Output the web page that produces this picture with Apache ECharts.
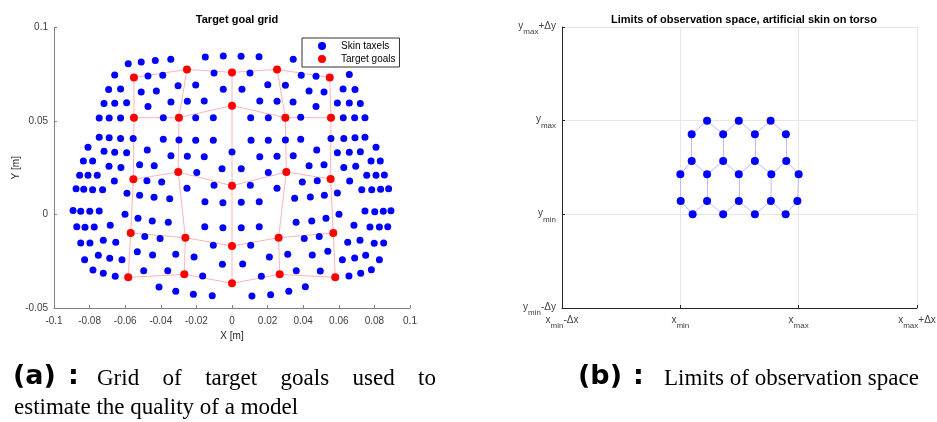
<!DOCTYPE html>
<html>
<head>
<meta charset="utf-8">
<script src="https://cdn.jsdelivr.net/npm/echarts@6/dist/echarts.min.js"></script>
<style>html,body{margin:0;padding:0;background:#fff}#c{width:937px;height:422px}</style>
</head>
<body>
<div id="c"></div>
<script>
// ---- (a) Skin taxels [m]
const taxelX = [
-0.0583,-0.0510,-0.0431,-0.0344,-0.0150,-0.0049,-0.0659,-0.0472,-0.0389,-0.0101,
-0.0693,-0.0626,-0.0510,-0.0425,-0.0303,-0.0204,-0.0049,-0.0719,-0.0659,-0.0592,
-0.0472,-0.0343,-0.0251,-0.0156,-0.0746,-0.0690,-0.0626,-0.0386,-0.0204,-0.0105,
0.0051,0.0152,0.0344,0.0431,0.0510,0.0583,0.0101,0.0389,0.0472,0.0659,
0.0056,0.0201,0.0300,0.0433,0.0517,0.0624,0.0691,0.0156,0.0253,0.0343,
0.0472,0.0592,0.0659,0.0721,0.0105,0.0204,0.0386,0.0625,0.0689,0.0747,
-0.0746,-0.0690,-0.0626,-0.0555,-0.0386,-0.0298,-0.0204,-0.0105,-0.0809,-0.0719,
-0.0659,-0.0592,-0.0476,-0.0343,-0.0251,-0.0156,0,-0.0835,-0.0783,-0.0691,
-0.0624,-0.0519,-0.0437,-0.0198,-0.0056,-0.0856,-0.0809,-0.0757,-0.0661,-0.0478,
-0.0395,-0.0876,-0.0833,-0.0783,-0.0727,-0.0590,-0.0519,-0.0438,-0.0350,-0.0253,
-0.0101,-0.0152,-0.0051,-0.0893,-0.0850,-0.0799,-0.0746,-0.0601,
0.0107,0.0204,0.0300,0.0386,0.0556,0.0628,0.0691,0.0747,0.0156,0.0253,
0.0344,0.0476,0.0592,0.0659,0.0721,0.0809,0.0052,0.0204,0.0433,0.0517,
0.0628,0.0695,0.0781,0.0833,0.0103,0.0253,0.0395,0.0479,0.0661,0.0757,
0.0809,0.0856,0.0052,0.0153,0.0352,0.0440,0.0519,0.0592,0.0729,0.0785,
0.0835,0.0880,0.0601,0.0747,0.0802,0.0850,0.0893,
-0.0528,-0.0448,-0.0358,-0.0872,-0.0826,-0.0774,-0.0684,-0.0153,-0.0051,-0.0490,
-0.0404,-0.0105,-0.0850,-0.0798,-0.0723,-0.0653,-0.0532,-0.0446,-0.0316,-0.0213,
-0.0054,-0.0828,-0.0751,-0.0687,-0.0618,-0.0781,-0.0723,-0.0656,-0.0496,-0.0361,
-0.0165,-0.0410,-0.0316,-0.0217,-0.0111,
0.0052,0.0153,0.0360,0.0448,0.0528,0.0685,0.0775,0.0828,0.0875,0.0105,
0.0406,0.0490,0.0650,0.0719,0.0799,0.0852,0.0060,0.0210,0.0313,0.0451,
0.0538,0.0620,0.0689,0.0751,0.0828,0.0165,0.0361,0.0496,0.0657,0.0723,
0.0783,0.0112,0.0217,0.0319,0.0412
];
const taxelY = [
0.0806,0.0816,0.0823,0.0830,0.0842,0.0848,0.0746,0.0741,0.0745,0.0757,
0.0668,0.0671,0.0655,0.0661,0.0689,0.0693,0.0670,0.0593,0.0595,0.0597,
0.0577,0.0602,0.0606,0.0607,0.0516,0.0516,0.0516,0.0518,0.0518,0.0518,
0.0846,0.0844,0.0830,0.0823,0.0816,0.0806,0.0757,0.0745,0.0739,0.0748,
0.0670,0.0694,0.0691,0.0661,0.0655,0.0671,0.0668,0.0607,0.0605,0.0602,
0.0577,0.0596,0.0596,0.0593,0.0518,0.0518,0.0520,0.0518,0.0518,0.0518,
0.0413,0.0411,0.0407,0.0407,0.0402,0.0398,0.0397,0.0397,0.0359,0.0338,
0.0333,0.0330,0.0345,0.0314,0.0311,0.0309,0.0334,0.0286,0.0286,0.0258,
0.0252,0.0266,0.0261,0.0224,0.0245,0.0210,0.0210,0.0210,0.0179,0.0181,
0.0174,0.0138,0.0135,0.0133,0.0133,0.0113,0.0103,0.0092,0.0084,0.0140,
0.0156,0.0068,0.0063,0.0022,0.0017,0.0017,0.0019,0.0001,
0.0397,0.0397,0.0398,0.0402,0.0407,0.0407,0.0411,0.0413,0.0309,0.0311,
0.0314,0.0345,0.0330,0.0333,0.0336,0.0359,0.0245,0.0224,0.0261,0.0266,
0.0252,0.0258,0.0286,0.0286,0.0156,0.0140,0.0174,0.0181,0.0179,0.0210,
0.0210,0.0211,0.0065,0.0068,0.0087,0.0094,0.0103,0.0115,0.0133,0.0133,
0.0135,0.0138,0.0001,0.0019,0.0015,0.0017,0.0020,
-0.0020,-0.0035,-0.0042,-0.0065,-0.0068,-0.0067,-0.0058,-0.0065,-0.0071,-0.0117,
-0.0129,-0.0165,-0.0152,-0.0152,-0.0138,-0.0149,-0.0199,-0.0217,-0.0213,-0.0227,
-0.0266,-0.0242,-0.0218,-0.0234,-0.0242,-0.0297,-0.0314,-0.0330,-0.0301,-0.0301,
-0.0329,-0.0388,-0.0411,-0.0427,-0.0434,
-0.0071,-0.0065,-0.0042,-0.0035,-0.0020,-0.0058,-0.0067,-0.0067,-0.0065,-0.0165,
-0.0129,-0.0117,-0.0149,-0.0138,-0.0154,-0.0152,-0.0265,-0.0227,-0.0213,-0.0217,
-0.0197,-0.0242,-0.0233,-0.0218,-0.0242,-0.0330,-0.0301,-0.0302,-0.0329,-0.0314,
-0.0295,-0.0436,-0.0429,-0.0411,-0.0386
];
// ---- (a) Target goals, 5 rows x 5 columns [m]
const goalX = [
[-0.0551,-0.0253,0,0.0253,0.0549],
[-0.0551,-0.0298,0,0.0300,0.0556],
[-0.0554,-0.0302,0,0.0305,0.0554],
[-0.0569,-0.0262,0,0.0262,0.0569],
[-0.0583,-0.0268,0,0.0268,0.0580]
];
const goalY = [
[0.0732,0.0776,0.0760,0.0776,0.0732],
[0.0518,0.0518,0.0582,0.0518,0.0518],
[0.0188,0.0227,0.0154,0.0227,0.0190],
[-0.0099,-0.0124,-0.0168,-0.0124,-0.0099],
[-0.0336,-0.0320,-0.0368,-0.0320,-0.0336]
];
// ---- (b) Hexagonal skin patch in normalised limit units
const hexX = [1.226,1.494,1.763, 1.096,1.362,1.630,1.892, 1.096,1.362,1.630,1.895,
              1.0,1.226,1.494,1.769,2.0, 1.003,1.226,1.494,1.765,1.989, 1.104,1.362,1.630,1.890];
const hexY = [2.0,2.0,2.0, 1.854,1.854,1.854,1.854, 1.569,1.569,1.569,1.569,
              1.427,1.427,1.427,1.427,1.427, 1.142,1.142,1.142,1.142,1.142, 1.0,1.0,1.0,1.0];
const hexEdges = [[0,3],[0,4],[1,4],[1,5],[2,5],[2,6],[3,7],[4,8],[5,9],[6,10],
  [7,11],[7,12],[8,12],[8,13],[9,13],[9,14],[10,14],[10,15],
  [11,16],[12,17],[13,18],[14,19],[15,20],
  [16,21],[17,21],[17,22],[18,22],[18,23],[19,23],[19,24],[20,24]];
const xTickBase = ['x','x','x','x'], xTickSub = ['min','min','max','max'], xTickSuffix = ['-Δx','','','+Δx'];
const yTickBase = ['y','y','y','y'], yTickSub = ['min','min','max','max'], yTickSuffix = ['-Δy','','','+Δy'];
const captionA1 = 'Grid of target goals used to';
const captionA2 = 'estimate the quality of a model';
const captionB = 'Limits of observation space';

const FONT = "'Liberation Sans', Arial, sans-serif";
const LBL = '#404040';
const SERIF = "23px 'Liberation Serif', serif";
const BOLD = "bold 27px 'DejaVu Sans', sans-serif";
const taxels = taxelX.map((x,i)=>[x, taxelY[i]]);
const goals = [];
goalX.forEach((row,r)=>row.forEach((x,c)=>goals.push([x, goalY[r][c]])));
const goalLines = [];
for (let r=0;r<5;r++) goalLines.push({coords: goalX[r].map((x,c)=>[x, goalY[r][c]])});
for (let c=0;c<5;c++) goalLines.push({coords: goalX.map((row,r)=>[row[c], goalY[r][c]])});
const hexPts = hexX.map((x,i)=>[x, hexY[i]]);
const hexLines = hexEdges.map(e=>({coords:[hexPts[e[0]], hexPts[e[1]]]}));

// justified first caption line (LaTeX-style)
const mctx = document.createElement('canvas').getContext('2d');
mctx.font = SERIF;
const words = captionA1.split(' ');
const wW = words.map(w=>mctx.measureText(w).width);
const lineL = 97, lineR = 436;
const gap = (lineR - lineL - wW.reduce((a,b)=>a+b,0)) / (words.length - 1);
const justified = [];
let cx = lineL;
words.forEach((w,i)=>{ justified.push({type:'text', left: cx, top: 367, style:{text:w, font:SERIF, fill:'#000'}}); cx += wW[i] + gap; });

const richSub = {
  n: {fontSize: 10, fontFamily: FONT, color: LBL, lineHeight: 12, verticalAlign: 'top'},
  s: {fontSize: 8, fontFamily: FONT, color: LBL, lineHeight: 8, padding: [7,0,0,0], verticalAlign: 'top'}
};
function subLabel(base, sub, suf){ return '{n|'+base+'}{s|'+sub+'}' + (suf ? '{n|'+suf+'}' : ''); }

const chart = echarts.init(document.getElementById('c'), null, {renderer:'canvas'});
chart.setOption({
  animation: false,
  backgroundColor: '#fff',
  title: [
    {text: 'Target goal grid', left: 232, top: 9, textAlign: 'center',
     textStyle: {fontFamily: FONT, fontSize: 11, fontWeight: 'bold', color: '#000'}},
    {text: 'Limits of observation space, artificial skin on torso', left: 739, top: 9, textAlign: 'center',
     textStyle: {fontFamily: FONT, fontSize: 11, fontWeight: 'bold', color: '#000'}}
  ],
  legend: {
    data: ['Skin taxels','Target goals'], orient: 'vertical', left: 302, top: 38,
    itemWidth: 8, itemHeight: 8, itemGap: 3, icon: 'circle',
    padding: [3, 4, 3, 16], backgroundColor: '#fff', borderColor: '#333', borderWidth: 1,
    textStyle: {fontFamily: FONT, fontSize: 10, color: '#000', padding: [0,0,0,10]}
  },
  grid: [
    {left: 54, right: 527, top: 27.5, bottom: 114, containLabel: false, outerBoundsMode: 'none'},
    {left: 562, right: 20, top: 27, bottom: 114, containLabel: false, outerBoundsMode: 'none'}
  ],
  xAxis: [
    {type: 'value', gridIndex: 0, min: -0.1, max: 0.1, interval: 0.02,
     name: 'X [m]', nameLocation: 'middle', nameGap: 23,
     nameTextStyle: {fontFamily: FONT, fontSize: 10, color: '#262626'},
     axisLine: {onZero: false, lineStyle: {color: '#808080', width: 1}},
     axisTick: {inside: true, length: 3, lineStyle: {color: '#808080'}},
     axisLabel: {fontFamily: FONT, fontSize: 10, color: LBL, margin: 8},
     splitLine: {show: false}},
    {type: 'value', gridIndex: 1, min: 0, max: 3, interval: 1,
     axisLine: {onZero: false, lineStyle: {color: '#262626', width: 1}},
     axisTick: {inside: true, length: 3, lineStyle: {color: '#262626'}},
     axisLabel: {margin: 7, rich: richSub,
       formatter: v => subLabel(xTickBase[v], xTickSub[v], xTickSuffix[v])},
     splitLine: {show: true, lineStyle: {color: '#e6e6e6', width: 1}}}
  ],
  yAxis: [
    {type: 'value', gridIndex: 0, min: -0.05, max: 0.1, interval: 0.05,
     name: 'Y [m]', nameLocation: 'middle', nameGap: 31, nameRotate: 90,
     nameTextStyle: {fontFamily: FONT, fontSize: 10, color: '#262626'},
     axisLine: {show: true, onZero: false, lineStyle: {color: '#808080', width: 1}},
     axisTick: {show: true, inside: true, length: 3, lineStyle: {color: '#808080'}},
     axisLabel: {fontFamily: FONT, fontSize: 10, color: LBL, margin: 6},
     splitLine: {show: false}},
    {type: 'value', gridIndex: 1, min: 0, max: 3, interval: 1,
     axisLine: {show: true, onZero: false, lineStyle: {color: '#262626', width: 1}},
     axisTick: {show: true, inside: true, length: 3, lineStyle: {color: '#262626'}},
     axisLabel: {margin: 6, rich: richSub,
       formatter: v => subLabel(yTickBase[v], yTickSub[v], yTickSuffix[v])},
     splitLine: {show: true, lineStyle: {color: '#e6e6e6', width: 1}}}
  ],
  series: [
    {type: 'lines', name: 'goal grid', coordinateSystem: 'cartesian2d', xAxisIndex: 0, yAxisIndex: 0,
     polyline: true, data: goalLines, silent: true,
     lineStyle: {color: '#ffb4b4', width: 1, opacity: 1, curveness: 0}},
    {type: 'scatter', name: 'Skin taxels', xAxisIndex: 0, yAxisIndex: 0, data: taxels,
     symbol: 'circle', symbolSize: 7, itemStyle: {color: '#0000ff', opacity: 1}},
    {type: 'scatter', name: 'Target goals', xAxisIndex: 0, yAxisIndex: 0, data: goals,
     symbol: 'circle', symbolSize: 8, itemStyle: {color: '#ff0000', opacity: 1}},
    {type: 'lines', name: 'hex edges', coordinateSystem: 'cartesian2d', xAxisIndex: 1, yAxisIndex: 1,
     data: hexLines, silent: true,
     lineStyle: {color: '#bcbcff', width: 1, opacity: 1, curveness: 0}},
    {type: 'scatter', name: 'hex taxels', xAxisIndex: 1, yAxisIndex: 1, data: hexPts,
     symbol: 'circle', symbolSize: 8, itemStyle: {color: '#0000ff', opacity: 1}}
  ],
  graphic: [
    {type: 'text', left: 13, top: 363, style: {text: '(a)', font: BOLD, fill: '#000'}},
    {type: 'text', left: 68, top: 363, style: {text: ':', font: BOLD, fill: '#000'}},
    ...justified,
    {type: 'text', left: 14, top: 396, style: {text: captionA2, font: SERIF, fill: '#000'}},
    {type: 'text', left: 578, top: 363, style: {text: '(b)', font: BOLD, fill: '#000'}},
    {type: 'text', left: 633, top: 363, style: {text: ':', font: BOLD, fill: '#000'}},
    {type: 'text', left: 664, top: 367, style: {text: captionB, font: SERIF, fill: '#000'}}
  ]
});
</script>
</body>
</html>
